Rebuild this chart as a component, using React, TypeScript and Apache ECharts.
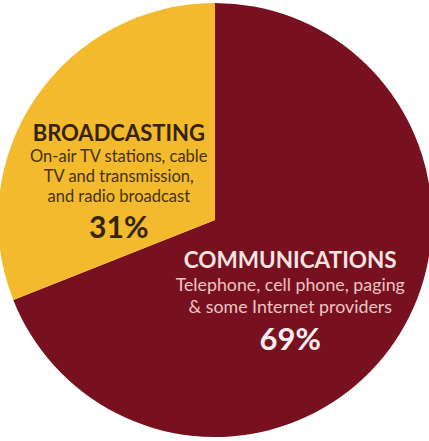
import React, { useEffect, useRef } from "react";
import * as echarts from "echarts";

const categories = ["COMMUNICATIONS", "BROADCASTING"];
const descriptions = [
  ["Telephone, cell phone, paging", "& some Internet providers"],
  ["On-air TV stations, cable", "TV and transmission,", "and radio broadcast"],
];
const shares = [69, 31];

const FONT = "Lato, sans-serif";

export default function App() {
  const ref = useRef<HTMLDivElement>(null);
  useEffect(() => {
    if (!ref.current) return;
    const chart = echarts.init(ref.current, undefined, { renderer: "svg" });
    const colors = ["#77111F", "#F2BA2C"];
    const textColors = [
      { t: "#F6E4E2", s: "#EEC4C4", p: "#FAEEEE" },
      { t: "#35230A", s: "#45320C", p: "#35230A" },
    ];
    const offsets = [
      [-17, 20.5],
      [-4, 25],
    ];
    const sizes = [
      { t: 22.5, s: 17.8, p: 31, tl: 27.5, sl: 21.5, pl: 44 },
      { t: 22, s: 16.5, p: 30, tl: 26.5, sl: 20, pl: 40 },
    ];
    const data = categories.map((name, i) => ({
      name,
      value: shares[i],
      itemStyle: { color: colors[i] },
      label: {
        show: true,
        position: "inside",
        offset: offsets[i],
        formatter: () =>
          [
            `{t|${name}}`,
            ...descriptions[i].map((d) => `{s|${d}}`),
            `{p|${shares[i]}%}`,
          ].join("\n"),
        rich: {
          t: {
            fontFamily: FONT,
            fontWeight: "bold",
            fontSize: sizes[i].t,
            color: textColors[i].t,
            lineHeight: sizes[i].tl,
            align: "center",
          },
          s: {
            fontFamily: FONT,
            fontSize: sizes[i].s,
            color: textColors[i].s,
            lineHeight: sizes[i].sl,
            align: "center",
          },
          p: {
            fontFamily: FONT,
            fontWeight: "bold",
            fontSize: sizes[i].p,
            color: textColors[i].p,
            lineHeight: sizes[i].pl,
            align: "center",
          },
        },
      },
    }));
    chart.setOption({
      animation: false,
      backgroundColor: "#ffffff",
      series: [
        {
          type: "pie",
          center: [215, 220],
          radius: [0, 217],
          startAngle: 90,
          clockwise: true,
          silent: true,
          labelLine: { show: false },
          itemStyle: { borderWidth: 0 },
          data,
        },
      ],
    });
    return () => chart.dispose();
  }, []);
  return (
    <div
      ref={ref}
      style={{ position: "fixed", left: 0, top: 0, width: 429, height: 441 }}
    />
  );
}
